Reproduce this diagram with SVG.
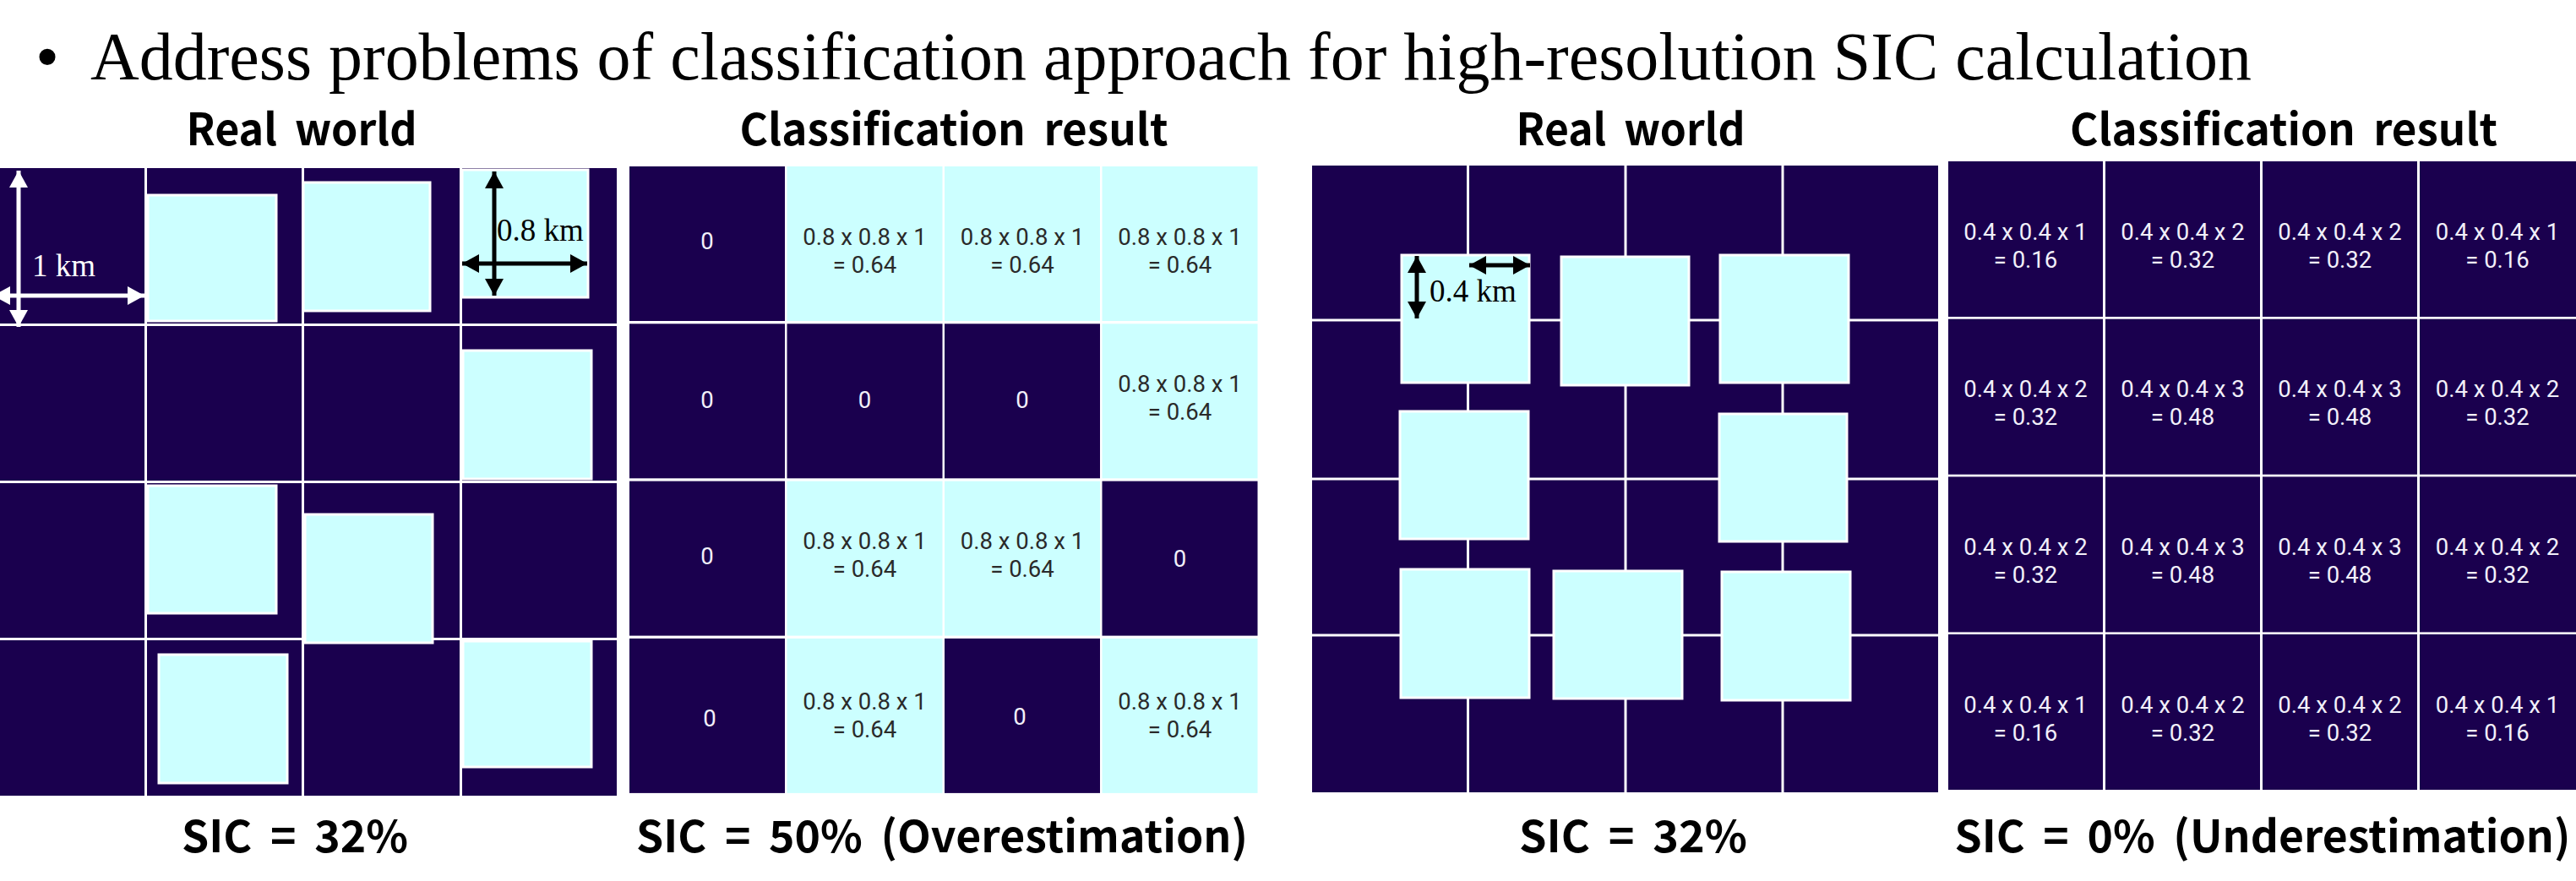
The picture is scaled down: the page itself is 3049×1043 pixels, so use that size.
<svg xmlns="http://www.w3.org/2000/svg" width="3049" height="1043" viewBox="0 0 3049 1043">
  <style>
    .title { font-family: "Liberation Serif", "Times New Roman", serif; font-size: 80px; fill: #000; }
    .head { font-family: "Noto Sans CJK KR", "Noto Sans", sans-serif; font-weight: 700; font-size: 52px; fill: #000; text-anchor: middle; word-spacing: 10px; }
    .sea { fill: #1A004E; }
    .ice { fill: #CCFFFF; }
    .floe { fill: #CCFFFF; stroke: #FFFFFF; stroke-width: 3; }
    .val { font-family: Roboto, "Liberation Sans", sans-serif; font-size: 27.5px; text-anchor: middle; }
    .on-sea { fill: #F2F0FA; }
    .on-ice { fill: #2A2A2A; }
    .dim { font-family: "Liberation Serif", "Times New Roman", serif; font-size: 37px; }
    .dim-w { stroke: #FFFFFF; stroke-width: 5; fill: none; }
    .dim-k { stroke: #000000; stroke-width: 5; fill: none; }
  </style>
  <defs>
    <marker id="tipW" viewBox="0 0 20 22" refX="20" refY="11" markerWidth="20" markerHeight="22" markerUnits="userSpaceOnUse" orient="auto-start-reverse">
      <path d="M0,0 L20,11 L0,22 Z" fill="#FFFFFF"/>
    </marker>
    <marker id="tipK" viewBox="0 0 20 22" refX="20" refY="11" markerWidth="20" markerHeight="22" markerUnits="userSpaceOnUse" orient="auto-start-reverse">
      <path d="M0,0 L20,11 L0,22 Z" fill="#000000"/>
    </marker>
  </defs>

  <rect width="3049" height="1043" fill="#FFFFFF"/>

  <!-- heading line -->
  <g id="title">
    <text class="title" x="42" y="94">•</text>
    <text class="title" x="107" y="94" textLength="2558" lengthAdjust="spacingAndGlyphs">Address problems of classification approach for high-resolution SIC calculation</text>
  </g>

  <!-- ===== Case 1: real world, 1 km grid with 0.8 km floes ===== -->
  <g id="case1-real">
    <text class="head" x="357" y="172" textLength="273" lengthAdjust="spacingAndGlyphs">Real world</text>
    <g id="case1-real-grid">
      <rect class="sea" x="0" y="199" width="171" height="184"/>
      <rect class="sea" x="174" y="199" width="183" height="184"/>
      <rect class="sea" x="360" y="199" width="184" height="184"/>
      <rect class="sea" x="547" y="199" width="183" height="184"/>
      <rect class="sea" x="0" y="386" width="171" height="183"/>
      <rect class="sea" x="174" y="386" width="183" height="183"/>
      <rect class="sea" x="360" y="386" width="184" height="183"/>
      <rect class="sea" x="547" y="386" width="183" height="183"/>
      <rect class="sea" x="0" y="572" width="171" height="183"/>
      <rect class="sea" x="174" y="572" width="183" height="183"/>
      <rect class="sea" x="360" y="572" width="184" height="183"/>
      <rect class="sea" x="547" y="572" width="183" height="183"/>
      <rect class="sea" x="0" y="758" width="171" height="184"/>
      <rect class="sea" x="174" y="758" width="183" height="184"/>
      <rect class="sea" x="360" y="758" width="184" height="184"/>
      <rect class="sea" x="547" y="758" width="183" height="184"/>
    </g>
    <g id="case1-floes">
      <rect class="floe" x="175" y="231" width="152" height="149"/>
      <rect class="floe" x="359" y="216" width="150" height="152"/>
      <rect class="floe" x="547" y="201" width="149" height="151"/>
      <rect class="floe" x="548" y="415" width="152" height="152"/>
      <rect class="floe" x="175" y="575" width="152" height="151"/>
      <rect class="floe" x="361" y="609" width="151" height="152"/>
      <rect class="floe" x="188" y="775" width="152" height="152"/>
      <rect class="floe" x="548" y="759" width="152" height="149"/>
    </g>
    <text class="head" x="349" y="1009" textLength="268" lengthAdjust="spacingAndGlyphs">SIC = 32%</text>
  </g>

  <!-- ===== Case 1: classification result ===== -->
  <g id="case1-class">
    <text class="head" x="1129" y="172" textLength="507" lengthAdjust="spacingAndGlyphs">Classification result</text>
    <g id="c1-r1">
      <rect class="sea" x="745" y="197" width="184" height="183"/>
      <text class="val on-sea" x="837" y="295">0</text>
      <rect class="ice" x="931.5" y="197" width="184" height="183"/>
      <text class="val on-ice" x="1023.5" y="290"><tspan x="1023.5">0.8 x 0.8 x 1</tspan><tspan x="1023.5" dy="33">= 0.64</tspan></text>
      <rect class="ice" x="1118" y="197" width="184" height="183"/>
      <text class="val on-ice" x="1210" y="290"><tspan x="1210">0.8 x 0.8 x 1</tspan><tspan x="1210" dy="33">= 0.64</tspan></text>
      <rect class="ice" x="1304.5" y="197" width="184" height="183"/>
      <text class="val on-ice" x="1396.5" y="290"><tspan x="1396.5">0.8 x 0.8 x 1</tspan><tspan x="1396.5" dy="33">= 0.64</tspan></text>
    </g>
    <g id="c1-r2">
      <rect class="sea" x="745" y="383.3" width="184" height="183"/>
      <text class="val on-sea" x="837" y="483">0</text>
      <rect class="sea" x="931.5" y="383.3" width="184" height="183"/>
      <text class="val on-sea" x="1023.5" y="483">0</text>
      <rect class="sea" x="1118" y="383.3" width="184" height="183"/>
      <text class="val on-sea" x="1210" y="483">0</text>
      <rect class="ice" x="1304.5" y="383.3" width="184" height="183"/>
      <text class="val on-ice" x="1396.5" y="464"><tspan x="1396.5">0.8 x 0.8 x 1</tspan><tspan x="1396.5" dy="33">= 0.64</tspan></text>
    </g>
    <g id="c1-r3">
      <rect class="sea" x="745" y="569.6" width="184" height="183"/>
      <text class="val on-sea" x="837" y="668">0</text>
      <rect class="ice" x="931.5" y="569.6" width="184" height="183"/>
      <text class="val on-ice" x="1023.5" y="650"><tspan x="1023.5">0.8 x 0.8 x 1</tspan><tspan x="1023.5" dy="33">= 0.64</tspan></text>
      <rect class="ice" x="1118" y="569.6" width="184" height="183"/>
      <text class="val on-ice" x="1210" y="650"><tspan x="1210">0.8 x 0.8 x 1</tspan><tspan x="1210" dy="33">= 0.64</tspan></text>
      <rect class="sea" x="1304.5" y="569.6" width="184" height="183"/>
      <text class="val on-sea" x="1396.5" y="671">0</text>
    </g>
    <g id="c1-r4">
      <rect class="sea" x="745" y="755.9" width="184" height="183"/>
      <text class="val on-sea" x="840" y="860">0</text>
      <rect class="ice" x="931.5" y="755.9" width="184" height="183"/>
      <text class="val on-ice" x="1023.5" y="840"><tspan x="1023.5">0.8 x 0.8 x 1</tspan><tspan x="1023.5" dy="33">= 0.64</tspan></text>
      <rect class="sea" x="1118" y="755.9" width="184" height="183"/>
      <text class="val on-sea" x="1207" y="858">0</text>
      <rect class="ice" x="1304.5" y="755.9" width="184" height="183"/>
      <text class="val on-ice" x="1396.5" y="840"><tspan x="1396.5">0.8 x 0.8 x 1</tspan><tspan x="1396.5" dy="33">= 0.64</tspan></text>
    </g>
    <text class="head" x="1115" y="1009" textLength="724" lengthAdjust="spacingAndGlyphs">SIC = 50% (Overestimation)</text>
  </g>

  <!-- ===== Case 2: real world, floes straddling cell edges ===== -->
  <g id="case2-real">
    <text class="head" x="1930" y="172" textLength="271" lengthAdjust="spacingAndGlyphs">Real world</text>
    <g id="case2-real-grid">
      <rect class="sea" x="1553" y="196" width="183" height="181.5"/>
      <rect class="sea" x="1739" y="196" width="183.5" height="181.5"/>
      <rect class="sea" x="1925.5" y="196" width="183" height="181.5"/>
      <rect class="sea" x="2111.5" y="196" width="182.5" height="181.5"/>
      <rect class="sea" x="1553" y="380.5" width="183" height="185"/>
      <rect class="sea" x="1739" y="380.5" width="183.5" height="185"/>
      <rect class="sea" x="1925.5" y="380.5" width="183" height="185"/>
      <rect class="sea" x="2111.5" y="380.5" width="182.5" height="185"/>
      <rect class="sea" x="1553" y="568.5" width="183" height="182"/>
      <rect class="sea" x="1739" y="568.5" width="183.5" height="182"/>
      <rect class="sea" x="1925.5" y="568.5" width="183" height="182"/>
      <rect class="sea" x="2111.5" y="568.5" width="182.5" height="182"/>
      <rect class="sea" x="1553" y="753.5" width="183" height="184.5"/>
      <rect class="sea" x="1739" y="753.5" width="183.5" height="184.5"/>
      <rect class="sea" x="1925.5" y="753.5" width="183" height="184.5"/>
      <rect class="sea" x="2111.5" y="753.5" width="182.5" height="184.5"/>
    </g>
    <g id="case2-floes">
      <rect class="floe" x="1659" y="302" width="151" height="151"/>
      <rect class="floe" x="1848" y="304" width="151" height="152"/>
      <rect class="floe" x="2036" y="302" width="152" height="151"/>
      <rect class="floe" x="1657" y="487" width="152" height="151"/>
      <rect class="floe" x="2035" y="490" width="151" height="151"/>
      <rect class="floe" x="1658" y="674" width="152" height="152"/>
      <rect class="floe" x="1839" y="676" width="152" height="151"/>
      <rect class="floe" x="2038" y="677" width="152" height="152"/>
    </g>
    <text class="head" x="1933" y="1009" textLength="270" lengthAdjust="spacingAndGlyphs">SIC = 32%</text>
  </g>

  <!-- ===== Case 2: classification result ===== -->
  <g id="case2-class">
    <text class="head" x="2703" y="172" textLength="506" lengthAdjust="spacingAndGlyphs">Classification result</text>
    <g id="c2-r1">
      <rect class="sea" x="2306" y="191" width="183" height="184"/>
      <text class="val on-sea" x="2397.5" y="284"><tspan x="2397.5">0.4 x 0.4 x 1</tspan><tspan x="2397.5" dy="33">= 0.16</tspan></text>
      <rect class="sea" x="2492" y="191" width="183" height="184"/>
      <text class="val on-sea" x="2583.5" y="284"><tspan x="2583.5">0.4 x 0.4 x 2</tspan><tspan x="2583.5" dy="33">= 0.32</tspan></text>
      <rect class="sea" x="2678" y="191" width="183" height="184"/>
      <text class="val on-sea" x="2769.5" y="284"><tspan x="2769.5">0.4 x 0.4 x 2</tspan><tspan x="2769.5" dy="33">= 0.32</tspan></text>
      <rect class="sea" x="2864" y="191" width="185" height="184"/>
      <text class="val on-sea" x="2956" y="284"><tspan x="2956">0.4 x 0.4 x 1</tspan><tspan x="2956" dy="33">= 0.16</tspan></text>
    </g>
    <g id="c2-r2">
      <rect class="sea" x="2306" y="377.7" width="183" height="184"/>
      <text class="val on-sea" x="2397.5" y="470"><tspan x="2397.5">0.4 x 0.4 x 2</tspan><tspan x="2397.5" dy="33">= 0.32</tspan></text>
      <rect class="sea" x="2492" y="377.7" width="183" height="184"/>
      <text class="val on-sea" x="2583.5" y="470"><tspan x="2583.5">0.4 x 0.4 x 3</tspan><tspan x="2583.5" dy="33">= 0.48</tspan></text>
      <rect class="sea" x="2678" y="377.7" width="183" height="184"/>
      <text class="val on-sea" x="2769.5" y="470"><tspan x="2769.5">0.4 x 0.4 x 3</tspan><tspan x="2769.5" dy="33">= 0.48</tspan></text>
      <rect class="sea" x="2864" y="377.7" width="185" height="184"/>
      <text class="val on-sea" x="2956" y="470"><tspan x="2956">0.4 x 0.4 x 2</tspan><tspan x="2956" dy="33">= 0.32</tspan></text>
    </g>
    <g id="c2-r3">
      <rect class="sea" x="2306" y="564.4" width="183" height="184"/>
      <text class="val on-sea" x="2397.5" y="657"><tspan x="2397.5">0.4 x 0.4 x 2</tspan><tspan x="2397.5" dy="33">= 0.32</tspan></text>
      <rect class="sea" x="2492" y="564.4" width="183" height="184"/>
      <text class="val on-sea" x="2583.5" y="657"><tspan x="2583.5">0.4 x 0.4 x 3</tspan><tspan x="2583.5" dy="33">= 0.48</tspan></text>
      <rect class="sea" x="2678" y="564.4" width="183" height="184"/>
      <text class="val on-sea" x="2769.5" y="657"><tspan x="2769.5">0.4 x 0.4 x 3</tspan><tspan x="2769.5" dy="33">= 0.48</tspan></text>
      <rect class="sea" x="2864" y="564.4" width="185" height="184"/>
      <text class="val on-sea" x="2956" y="657"><tspan x="2956">0.4 x 0.4 x 2</tspan><tspan x="2956" dy="33">= 0.32</tspan></text>
    </g>
    <g id="c2-r4">
      <rect class="sea" x="2306" y="751" width="183" height="184"/>
      <text class="val on-sea" x="2397.5" y="844"><tspan x="2397.5">0.4 x 0.4 x 1</tspan><tspan x="2397.5" dy="33">= 0.16</tspan></text>
      <rect class="sea" x="2492" y="751" width="183" height="184"/>
      <text class="val on-sea" x="2583.5" y="844"><tspan x="2583.5">0.4 x 0.4 x 2</tspan><tspan x="2583.5" dy="33">= 0.32</tspan></text>
      <rect class="sea" x="2678" y="751" width="183" height="184"/>
      <text class="val on-sea" x="2769.5" y="844"><tspan x="2769.5">0.4 x 0.4 x 2</tspan><tspan x="2769.5" dy="33">= 0.32</tspan></text>
      <rect class="sea" x="2864" y="751" width="185" height="184"/>
      <text class="val on-sea" x="2956" y="844"><tspan x="2956">0.4 x 0.4 x 1</tspan><tspan x="2956" dy="33">= 0.16</tspan></text>
    </g>
    <text class="head" x="2678" y="1009" textLength="729" lengthAdjust="spacingAndGlyphs">SIC = 0% (Underestimation)</text>
  </g>

  <!-- dimension arrows and their labels -->
  <g id="connectors">
    <line class="dim-w" x1="22" y1="202" x2="22" y2="387" marker-start="url(#tipW)" marker-end="url(#tipW)"/>
    <line class="dim-w" x1="-8" y1="350" x2="171" y2="350" marker-start="url(#tipW)" marker-end="url(#tipW)"/>
    <line class="dim-k" x1="585" y1="203" x2="585" y2="350" marker-start="url(#tipK)" marker-end="url(#tipK)"/>
    <line class="dim-k" x1="547" y1="312" x2="695" y2="312" marker-start="url(#tipK)" marker-end="url(#tipK)"/>
    <line class="dim-k" x1="1677" y1="303" x2="1677" y2="377" marker-start="url(#tipK)" marker-end="url(#tipK)"/>
    <line class="dim-k" x1="1739" y1="314" x2="1811" y2="314" marker-start="url(#tipK)" marker-end="url(#tipK)"/>
    <text class="dim" x="38" y="327" fill="#FFFFFF">1 km</text>
    <text class="dim" x="588" y="285" fill="#000000">0.8 km</text>
    <text class="dim" x="1692" y="357" fill="#000000">0.4 km</text>
  </g>
</svg>
